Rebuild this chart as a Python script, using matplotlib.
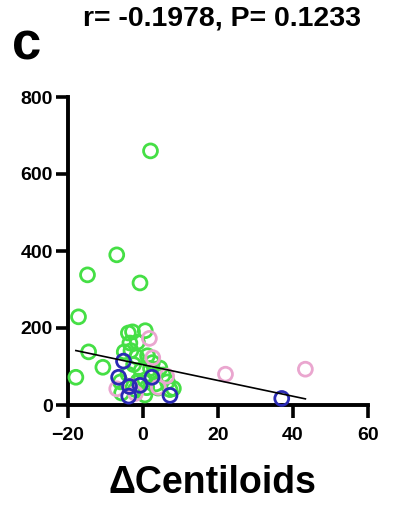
import matplotlib
matplotlib.use("Agg")
import matplotlib.pyplot as plt
import numpy as np

plt.rcParams['font.family'] = ['Liberation Sans', 'DejaVu Sans']

# Change in Centiloids (x) vs outcome (y), by group
green_x = [2.0, -7.0, -14.8, -0.8, -17.2, -14.5, -17.9, -10.7,
           -3.9, -2.8, 0.6, -3.5, -1.5, -5.0, -3.2, -1.7, 1.2,
           4.5, 5.4, -1.3, 0.5, -0.5, 2.0, 3.0, 4.0, 8.1, 0.5, -5.7,
           -2.0, 6.5, 7.2, -4.0, 1.0, -6.0, 3.5, -2.5, 2.5]
green_y = [660, 390, 338, 317, 229, 138, 72, 98,
           187, 190, 193, 161, 163, 138, 141, 125, 128,
           96, 78, 62, 65, 90, 95, 85, 44, 43, 26, 31,
           40, 60, 40, 80, 45, 60, 55, 105, 110]

pink_x = [1.7, 2.6, 6.3, -7.0, -3.5, 4.1, 22.0, 43.3, -2.0]
pink_y = [173, 123, 75, 42, 49, 46, 80, 93, 30]

blue_x = [-5.2, -6.5, 2.4, -0.8, -3.6, -3.8, 7.2, 37.0]
blue_y = [114, 72, 72, 51, 48, 23, 25, 17]

# Linear fit shown on the panel
fit_slope = -2.05
fit_intercept = 104.7
fit_x_range = [-17.9, 43.3]

r_value = -0.1978
p_value = 0.1233

x_ticks = [-20, 0, 20, 40, 60]
y_ticks = [0, 200, 400, 600, 800]

fig = plt.figure(figsize=(3.98, 5.07), dpi=100)
ax = fig.add_axes([68/398, 1-405/507, 300/398, 308/507])

ms = 100
lw = 2.0
ax.scatter(green_x, green_y, s=ms, facecolors='none', edgecolors='#45df45',
           linewidths=lw, zorder=3, clip_on=False)
ax.scatter(pink_x, pink_y, s=ms, facecolors='none', edgecolors='#eaa6cf',
           linewidths=lw, zorder=3, clip_on=False)
ax.scatter(blue_x, blue_y, s=ms, facecolors='none', edgecolors='#2a2ab4',
           linewidths=lw, zorder=4, clip_on=False)

fx = np.array(fit_x_range)
ax.plot(fx, fit_slope * fx + fit_intercept, color='black', lw=1.2, zorder=5)

ax.set_xlim(-20, 60)
ax.set_ylim(0, 800)
ax.set_xticks(x_ticks)
ax.set_yticks(y_ticks)
ax.spines['top'].set_visible(False)
ax.spines['right'].set_visible(False)
for s in ('left', 'bottom'):
    ax.spines[s].set_linewidth(2.8)
ax.tick_params(axis='both', direction='out', length=9, width=2.6,
               labelsize=14, pad=2.0)
ax.tick_params(axis='x', pad=7)
for lab in ax.get_xticklabels() + ax.get_yticklabels():
    lab.set_fontweight('bold')

ax.set_xlabel('ΔCentiloids', fontsize=27, fontweight='bold')
ax.xaxis.set_label_coords((212 - 68) / 300, (405 - 483) / 308,
                          transform=ax.transAxes)
ax.xaxis.label.set_verticalalignment('center')

fig.text(222/398, 1-18/507, f'r= {r_value:.4f}, P= {p_value:.4f}',
         ha='center', va='center', fontsize=20.5, fontweight='bold')
fig.text(12/398, 1-46/507, 'c', ha='left', va='center',
         fontsize=38, fontweight='bold')

fig.savefig('out.png', dpi=100)
